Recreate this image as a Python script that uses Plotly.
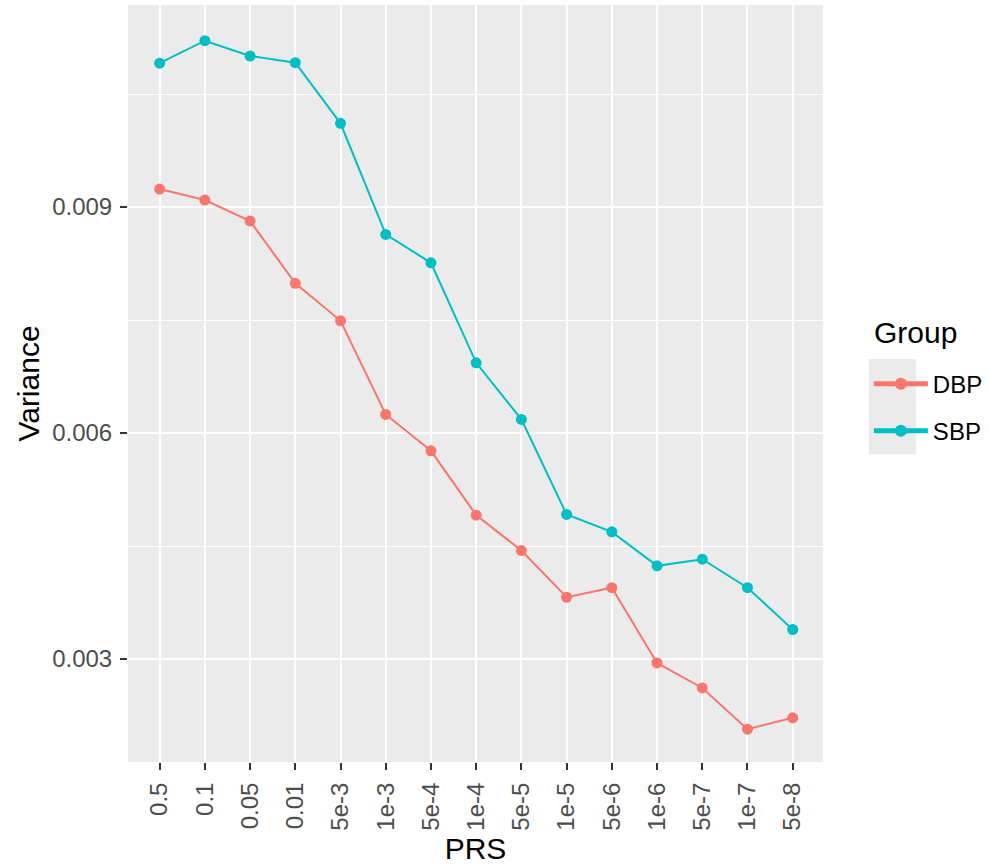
import plotly.graph_objects as go

prs = ["0.5", "0.1", "0.05", "0.01", "5e-3", "1e-3", "5e-4", "1e-4", "5e-5",
       "1e-5", "5e-6", "1e-6", "5e-7", "1e-7", "5e-8"]
dbp = [0.009239, 0.009093, 0.008814, 0.007987, 0.007490, 0.006247, 0.005764,
       0.004910, 0.004440, 0.003820, 0.003947, 0.002948, 0.002616, 0.002068, 0.002220]
sbp = [0.010910, 0.011208, 0.011005, 0.010916, 0.010111, 0.008637, 0.008260,
       0.006932, 0.006181, 0.004919, 0.004688, 0.004237, 0.004325, 0.003947, 0.003392]
y_ticks = [0.003, 0.006, 0.009]
y_tick_text = ["0.003", "0.006", "0.009"]

FONT = "Liberation Sans, Arial, sans-serif"
fig = go.Figure()
for name, vals, col in [("DBP", dbp, "#F8766D"), ("SBP", sbp, "#00BFC4")]:
    fig.add_trace(go.Scatter(x=prs, y=vals, name=name, legendgroup=name,
                             mode="lines+markers",
                             line=dict(color=col, width=2),
                             marker=dict(color=col, size=11)))

fig.update_layout(
    width=990, height=865,
    margin=dict(l=128, r=167, t=5, b=103, autoexpand=False),
    paper_bgcolor="white", plot_bgcolor="#EBEBEB",
    font=dict(family=FONT, color="#000000"),
    xaxis=dict(type="category", categoryorder="array", categoryarray=prs,
               range=[-0.7, 14.67], showgrid=True, gridcolor="white", gridwidth=2,
               zeroline=False, ticks="outside", ticklen=7, tickwidth=1.5,
               tickcolor="#333333", tickangle=-90, ticklabelstandoff=3,
               automargin=False,
               tickfont=dict(size=24, color="#4D4D4D", family=FONT),
               title=dict(text="PRS", font=dict(size=30, color="black"), standoff=9)),
    yaxis=dict(range=[0.001633, 0.011682], tickvals=y_ticks, ticktext=y_tick_text,
               showgrid=True, gridcolor="white", gridwidth=2, zeroline=False,
               ticks="outside", ticklen=7, tickwidth=1.5, tickcolor="#333333",
               ticklabelstandoff=3, automargin=False,
               tickfont=dict(size=24, color="#4D4D4D", family=FONT),
               minor=dict(tickvals=[0.0015, 0.0045, 0.0075, 0.0105], showgrid=True,
                          gridcolor="white", gridwidth=1, ticks=""),
               title=dict(text="Variance", font=dict(size=30, color="black"), standoff=3)),
    legend=dict(font=dict(size=24, color="black"), x=1.066, xanchor="left",
                y=0.529, yanchor="top", bgcolor="rgba(0,0,0,0)",
                itemsizing="constant", itemwidth=54, tracegroupgap=13),
    annotations=[dict(text="Group", xref="paper", yref="paper", x=1.0705, y=0.568,
                      xanchor="left", yanchor="middle", showarrow=False,
                      font=dict(size=30, color="black", family=FONT))],
    shapes=[dict(type="rect", xref="paper", yref="paper", x0=1.066, x1=1.134,
                 y0=0.4066, y1=0.5325, fillcolor="#EBEBEB", line=dict(width=0),
                 layer="below")],
)

fig.write_html("out.html")
